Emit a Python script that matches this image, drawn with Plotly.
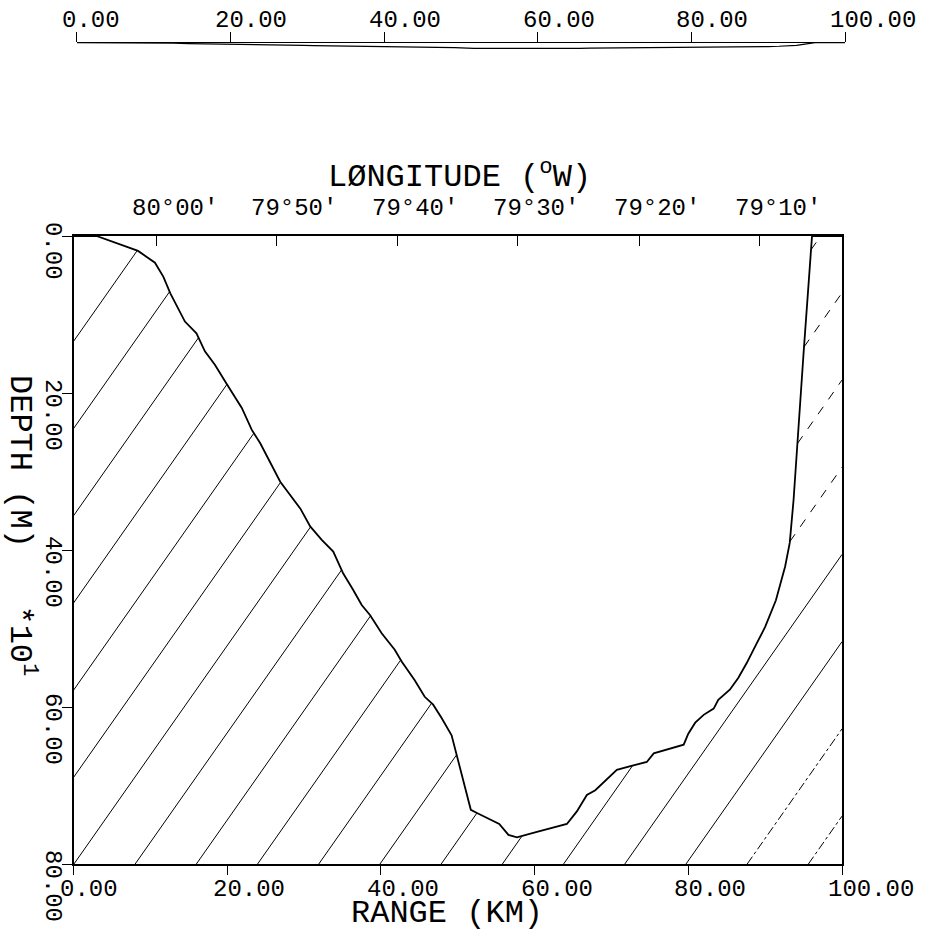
import numpy as np
import plotly.graph_objects as go

# Bathymetric section: range along track (km) and depth (units of 10 m)
RANGE_KM = [0.0, 3.0, 8.4, 10.6, 11.7, 12.6, 14.5, 16.0, 17.1, 18.4, 19.9, 21.9, 23.2,
            24.3, 26.9, 28.0, 29.5, 30.8, 32.3, 33.8, 35.1, 36.4, 37.5, 38.6, 40.1,
            41.8, 42.7, 44.4, 45.7, 46.8, 47.9, 49.2, 51.7, 52.5, 55.4, 56.6, 57.7,
            60.3, 64.2, 65.5, 66.8, 67.9, 69.0, 70.7, 72.6, 74.6, 75.5, 79.4, 80.0,
            80.9, 82.0, 83.3, 83.9, 85.4, 86.5, 87.6, 88.9, 90.0, 91.4, 92.6, 93.2,
            93.7, 95.0, 96.1, 100.0]
DEPTH_10M = [0.0, 0.0, 1.9, 3.4, 5.2, 7.3, 10.9, 12.4, 14.7, 16.4, 18.8, 21.9, 24.7,
             26.4, 31.3, 32.8, 34.7, 37.0, 38.7, 40.2, 43.0, 45.1, 47.0, 48.3, 50.6,
             52.7, 54.2, 56.6, 58.7, 59.7, 61.4, 63.6, 73.1, 73.5, 74.9, 76.3, 76.6,
             75.9, 74.9, 73.3, 71.2, 70.6, 69.6, 68.0, 67.5, 67.0, 65.9, 64.8, 63.4,
             62.0, 61.0, 60.2, 59.1, 57.8, 56.3, 54.4, 51.9, 49.8, 46.4, 42.1, 39.1,
             33.6, 14.9, 0.0, 0.0]

X_TICKS = [0, 20, 40, 60, 80, 100]
X_LABELS = ["0.00", "20.00", "40.00", "60.00", "80.00", "100.00"]
Y_TICKS = [0, 20, 40, 60, 80]
Y_LABELS = ["0.00", "20.00", "40.00", "60.00", "80.00"]
LON_TICK_KM = [10.8, 26.4, 42.1, 57.8, 73.6, 89.3]
LON_LABELS = ["80°00′", "79°50′", "79°40′", "79°30′", "79°20′", "79°10′"]

# Hatching of the sea floor: parallel lines rising to the right
HATCH_SLOPE = 1.395      # depth units per km
HATCH_STEP = 7.964       # km between lines along the bottom edge
HATCH_OFFSET = 0.06      # km, where line k=0 meets the bottom edge
HATCH_K = list(range(-6, 13))

W, H = 926, 934
FONT = "Liberation Mono"
INK = "black"


def fx(px):
    return px / W


def fy(py):
    return 1 - py / H


MAIN_X = (73.5, 842.0)
MAIN_Y = (236.0, 864.0)
MINI_X = (76.7, 845.0)
MINI_TOP = 42.7
PX_PER_KM = (MINI_X[1] - MINI_X[0]) / 100.0
MINI_DEPTH_KM = 1.0

rng = np.array(RANGE_KM)
dep = np.array(DEPTH_10M)


def hatch_segments(k):
    xb = HATCH_OFFSET + HATCH_STEP * k
    x0 = max(0.0, xb)
    x1 = min(100.0, xb + 80.0 / HATCH_SLOPE)
    if x1 <= x0:
        return []
    xs = np.linspace(x0, x1, 4000)
    dl = 80.0 - HATCH_SLOPE * (xs - xb)
    f = dl - np.interp(xs, rng, dep)
    inside = f >= 0
    segs = []
    i = 0
    n = len(xs)
    while i < n:
        if inside[i]:
            j = i
            while j + 1 < n and inside[j + 1]:
                j += 1
            a, b = xs[i], xs[j]
            if i > 0:
                t = f[i - 1] / (f[i - 1] - f[i])
                a = xs[i - 1] + t * (xs[i] - xs[i - 1])
            if j < n - 1:
                t = f[j] / (f[j] - f[j + 1])
                b = xs[j] + t * (xs[j + 1] - xs[j])
            if b - a > 0.05:
                segs.append((a, b))
            i = j + 1
        else:
            i += 1
    return [(a, b, 80.0 - HATCH_SLOPE * (a - xb), 80.0 - HATCH_SLOPE * (b - xb)) for a, b in segs]


groups = {"solid": ([], []), "dash": ([], []), "dashdot": ([], [])}
for k in HATCH_K:
    for a, b, da, db in hatch_segments(k):
        if k >= 11:
            style = "dashdot"
        elif a > 90:
            style = "dash"
        else:
            style = "solid"
        gx, gy = groups[style]
        gx += [a, b, None]
        gy += [da, db, None]

fig = go.Figure()
for style, (gx, gy) in groups.items():
    if gx:
        fig.add_trace(go.Scatter(x=gx, y=gy, mode="lines", xaxis="x", yaxis="y",
                                 line=dict(color=INK, width=1, dash=style),
                                 hoverinfo="skip", showlegend=False))

# sea-floor profile, exaggerated section
fig.add_trace(go.Scatter(x=RANGE_KM, y=DEPTH_10M, mode="lines", xaxis="x", yaxis="y",
                         line=dict(color=INK, width=1.8), showlegend=False))
# carrier for the longitude axis on top
fig.add_trace(go.Scatter(x=[0, 100], y=[0, 0], mode="lines", xaxis="x3", yaxis="y",
                         line=dict(color=INK, width=0), hoverinfo="skip", showlegend=False))
# same profile at true scale (depth in km)
fig.add_trace(go.Scatter(x=RANGE_KM, y=[d * 10 / 1000 for d in DEPTH_10M], mode="lines",
                         xaxis="x2", yaxis="y2", line=dict(color=INK, width=1.2),
                         showlegend=False))

axis_common = dict(showgrid=False, zeroline=False, showticklabels=False,
                   linecolor=INK, tickcolor=INK)

fig.update_layout(
    width=W, height=H, margin=dict(l=0, r=0, t=0, b=0),
    paper_bgcolor="white", plot_bgcolor="white",
    xaxis=dict(domain=[fx(MAIN_X[0]), fx(MAIN_X[1])], range=[0, 100], anchor="y",
               showline=True, linewidth=1.5, ticks="outside", ticklen=9, tickwidth=1.2,
               tickvals=X_TICKS, **axis_common),
    yaxis=dict(domain=[fy(MAIN_Y[1]), fy(MAIN_Y[0])], range=[80, 0], anchor="x",
               showline=True, linewidth=1.5, mirror=True, ticks="outside", ticklen=10,
               tickwidth=1.2, tickvals=Y_TICKS, **axis_common),
    xaxis3=dict(overlaying="x", side="top", anchor="y", range=[0, 100],
                showline=True, linewidth=1.5, ticks="inside", ticklen=10, tickwidth=1.2,
                tickvals=LON_TICK_KM, **axis_common),
    xaxis2=dict(domain=[fx(MINI_X[0]), fx(MINI_X[1])], range=[0, 100], anchor="y2",
                side="top", showline=True, linewidth=1.2, ticks="outside", ticklen=10,
                tickwidth=1.2, tickvals=X_TICKS, **axis_common),
    yaxis2=dict(domain=[fy(MINI_TOP + PX_PER_KM * MINI_DEPTH_KM), fy(MINI_TOP)],
                range=[MINI_DEPTH_KM, 0], anchor="x2", visible=False),
)

tick_font = dict(family=FONT, size=24, color=INK)
title_font = dict(family=FONT, size=32, color=INK)
ann = []
for v, t in zip(X_TICKS, X_LABELS):
    ann.append(dict(x=v, xref="x2", y=fy(20.5), yref="paper", text=t, showarrow=False,
                    xanchor="left", xshift=-17, yanchor="middle", font=tick_font))
    ann.append(dict(x=v, xref="x", y=fy(889), yref="paper", text=t, showarrow=False,
                    xanchor="left", xshift=-16, yanchor="middle", font=tick_font))
for v, t in zip(Y_TICKS, Y_LABELS):
    ann.append(dict(x=fx(53), xref="paper", y=v, yref="y", text=t, showarrow=False,
                    textangle=90, xanchor="center", yanchor="top", yshift=16,
                    font=tick_font))
for v, t in zip(LON_TICK_KM, LON_LABELS):
    ann.append(dict(x=v, xref="x3", y=fy(208), yref="paper", text=t, showarrow=False,
                    xanchor="left", xshift=-27, yanchor="middle", font=tick_font))
ann.append(dict(x=fx(447), xref="paper", y=0, yref="paper", text="RANGE (KM)",
                showarrow=False, xanchor="center", yanchor="bottom", font=title_font))
ann.append(dict(x=fx(459), xref="paper", y=fy(175), yref="paper",
                text="LØNGITUDE (<sup>o</sup>W)", showarrow=False, xanchor="center",
                yanchor="middle", font=title_font))
ann.append(dict(x=fx(22.5), xref="paper", y=fy(373), yref="paper",
                text="DEPTH (M)\u00a0\u00a0 *10<sup>1</sup>", showarrow=False, textangle=90,
                xanchor="center", yanchor="top", font=title_font))
fig.update_layout(annotations=ann)

fig.write_html("out.html")
